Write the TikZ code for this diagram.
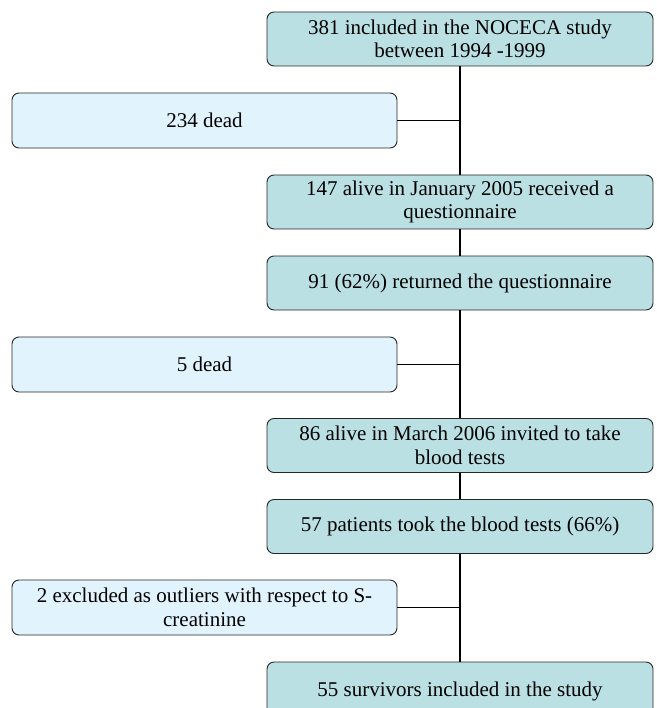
\documentclass[tikz,border=0pt]{standalone}
\usepackage{fontspec}
\setmainfont{Liberation Serif}
\begin{document}
\begin{tikzpicture}[x=1pt,y=1pt,
  mainbox/.style={draw=black!85, line width=0.9pt, rounded corners=7pt, fill=mainfill,
    minimum width=386pt, minimum height=54pt, align=center, inner sep=2pt,
    font=\fontsize{21}{23.5}\selectfont},
  sidebox/.style={draw=black!85, line width=0.9pt, rounded corners=7pt, fill=sidefill,
    minimum width=385pt, minimum height=55pt, align=center, inner sep=2pt,
    font=\fontsize{21}{23.5}\selectfont},
  link/.style={line width=1.6pt, black}]
\definecolor{mainfill}{HTML}{BAE0E4}
\definecolor{sidefill}{HTML}{E1F3FD}
\useasboundingbox (0,0) rectangle (656,-708);
\node[mainbox] (b1) at (460,-39) {381 included in the NOCECA study\\between 1994 -1999};
\node[sidebox] (l1) at (204.5,-120.5) {234 dead};
\node[mainbox] (b2) at (460,-202) {147 alive in January 2005 received a\\questionnaire};
\node[mainbox] (b3) at (460,-283) {91 (62\%) returned the questionnaire};
\node[sidebox] (l2) at (204.5,-364.5) {5 dead};
\node[mainbox] (b4) at (460,-445.5) {86 alive in March 2006 invited to take\\blood tests};
\node[mainbox] (b5) at (460,-526.5) {57 patients took the blood tests (66\%)};
\node[sidebox] (l3) at (204.5,-607.5) {2 excluded as outliers with respect to S-\\creatinine};
\node[mainbox, minimum height=58pt] (b6) at (460,-691) {55 survivors included in the study};
\coordinate (j1) at (l1.east -| b1.south);
\coordinate (j2) at (l2.east -| b1.south);
\coordinate (j3) at (l3.east -| b1.south);
\draw[link] (b1.south) -- (b2.north);
\draw[link] (l1.east) -- (j1);
\draw[link] (b2.south) -- (b3.north);
\draw[link] (b3.south) -- (b4.north);
\draw[link] (l2.east) -- (j2);
\draw[link] (b4.south) -- (b5.north);
\draw[link] (b5.south) -- (b6.north);
\draw[link] (l3.east) -- (j3);
\end{tikzpicture}
\end{document}
